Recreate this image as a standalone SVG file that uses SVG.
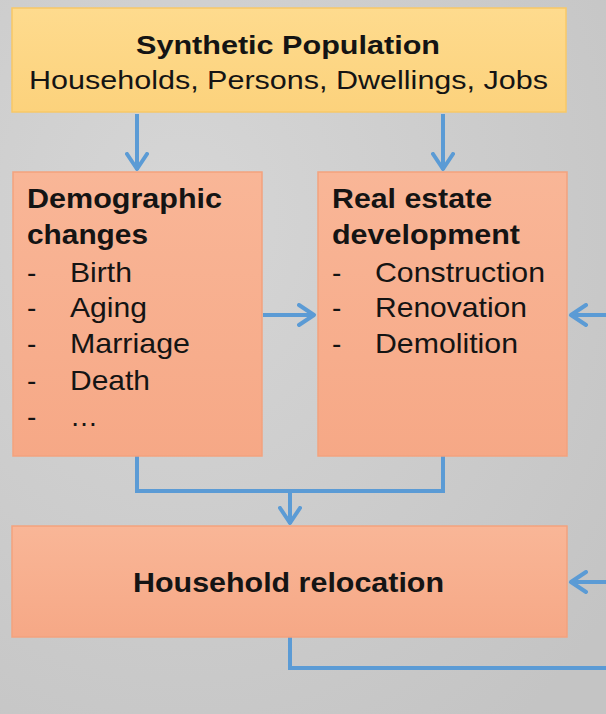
<svg xmlns="http://www.w3.org/2000/svg" width="606" height="714" viewBox="0 0 606 714">
  <defs>
    <radialGradient id="bg" cx="0.3" cy="0.3" r="0.9">
      <stop offset="0" stop-color="#d6d6d6"/>
      <stop offset="1" stop-color="#c4c4c4"/>
    </radialGradient>
    <linearGradient id="yel" x1="0" y1="0" x2="0" y2="1">
      <stop offset="0" stop-color="#fedb8e"/>
      <stop offset="1" stop-color="#fcd27c"/>
    </linearGradient>
    <linearGradient id="org" x1="0" y1="0" x2="0" y2="1">
      <stop offset="0" stop-color="#f9b697"/>
      <stop offset="1" stop-color="#f6a886"/>
    </linearGradient>
    <marker id="ah" viewBox="0 0 20 24" refX="18" refY="12" markerWidth="20" markerHeight="24" markerUnits="userSpaceOnUse" orient="auto">
      <polyline points="2,2 17,12 2,22" fill="none" stroke="#5b9bd5" stroke-width="4" stroke-linecap="round" stroke-linejoin="round"/>
    </marker>
    <style>
      .box { stroke-width: 1.5; }
      .yb { fill: url(#yel); stroke: #f8c867; }
      .ob { fill: url(#org); stroke: #f3a27e; }
      text { font-family: "Liberation Sans", Arial, sans-serif; font-size: 28px; fill: #141414; }
      .t { font-size: 26px; }
      .b { font-weight: bold; }
      .c { stroke: #5b9bd5; stroke-width: 4; fill: none; stroke-linejoin: miter; }
      .a { marker-end: url(#ah); }
    </style>
  </defs>
  <rect width="606" height="714" fill="url(#bg)"/>

  <g id="connectors">
    <line class="c a" x1="137" y1="114" x2="137" y2="170"/>
    <line class="c a" x1="443" y1="114" x2="443" y2="170"/>
    <line class="c a" x1="263" y1="315" x2="315" y2="315"/>
    <line class="c a" x1="606" y1="315" x2="570" y2="315"/>
    <polyline class="c" points="137,456 137,491 443,491 443,456"/>
    <line class="c a" x1="290" y1="491" x2="290" y2="524"/>
    <line class="c a" x1="606" y1="582" x2="570" y2="582"/>
    <polyline class="c" points="290,637 290,668 606,668"/>
  </g>

  <g id="synthetic-population">
    <rect class="box yb" x="12" y="8" width="554" height="104"/>
    <text class="t b" x="136" y="54" textLength="304" lengthAdjust="spacingAndGlyphs">Synthetic Population</text>
    <text class="t" x="29" y="89" textLength="519" lengthAdjust="spacingAndGlyphs">Households, Persons, Dwellings, Jobs</text>
  </g>

  <g id="demographic-changes">
    <rect class="box ob" x="13" y="172" width="249" height="284"/>
    <text class="b" x="27" y="208" textLength="195" lengthAdjust="spacingAndGlyphs">Demographic</text>
    <text class="b" x="27" y="244" textLength="121" lengthAdjust="spacingAndGlyphs">changes</text>
    <text x="27" y="282">-</text>
    <text x="70" y="282" textLength="62" lengthAdjust="spacingAndGlyphs">Birth</text>
    <text x="27" y="317">-</text>
    <text x="70" y="317" textLength="77" lengthAdjust="spacingAndGlyphs">Aging</text>
    <text x="27" y="353">-</text>
    <text x="70" y="353" textLength="120" lengthAdjust="spacingAndGlyphs">Marriage</text>
    <text x="27" y="390">-</text>
    <text x="70" y="390" textLength="80" lengthAdjust="spacingAndGlyphs">Death</text>
    <text x="27" y="426">-</text>
    <text x="70" y="426" textLength="28" lengthAdjust="spacingAndGlyphs">…</text>
  </g>

  <g id="real-estate-development">
    <rect class="box ob" x="318" y="172" width="249" height="284"/>
    <text class="b" x="332" y="208" textLength="160" lengthAdjust="spacingAndGlyphs">Real estate</text>
    <text class="b" x="332" y="244" textLength="188" lengthAdjust="spacingAndGlyphs">development</text>
    <text x="332" y="282">-</text>
    <text x="375" y="282" textLength="170" lengthAdjust="spacingAndGlyphs">Construction</text>
    <text x="332" y="317">-</text>
    <text x="375" y="317" textLength="152" lengthAdjust="spacingAndGlyphs">Renovation</text>
    <text x="332" y="353">-</text>
    <text x="375" y="353" textLength="143" lengthAdjust="spacingAndGlyphs">Demolition</text>
  </g>

  <g id="household-relocation">
    <rect class="box ob" x="12" y="526" width="555" height="111"/>
    <text class="b" x="133" y="592" textLength="311" lengthAdjust="spacingAndGlyphs">Household relocation</text>
  </g>
</svg>
